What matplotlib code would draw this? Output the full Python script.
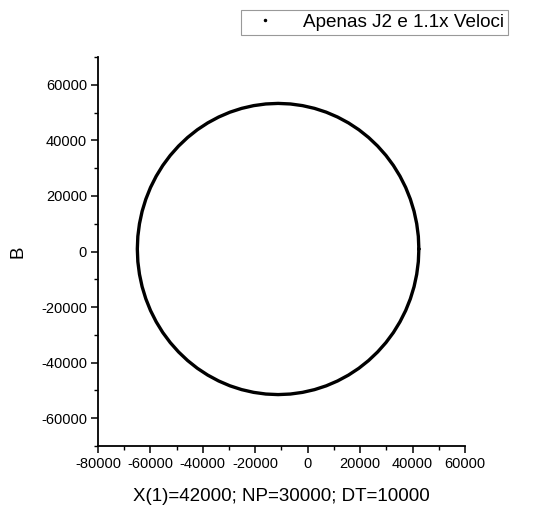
import matplotlib
matplotlib.use("Agg")
import matplotlib.pyplot as plt
from matplotlib.lines import Line2D
from matplotlib.ticker import MultipleLocator

plt.rcParams['font.family'] = ['Liberation Sans', 'DejaVu Sans']
plt.rcParams['axes.unicode_minus'] = False

# Orbit points (x, B)
orbit_x = [42400, 42200, 41580, 40570, 39160, 37370, 35200, 32690, 29840, 26670,
           23220, 19500, 15550, 11390, 7070, 2600, -1980, -6620,
           -11300, -15980, -20620, -25200, -29670, -33990, -38150, -42100, -45820,
           -49270, -52440, -55290, -57800, -59970, -61760, -63170, -64180, -64800,
           -65000, -64800, -64180, -63170, -61760, -59970, -57800, -55290, -52440,
           -49270, -45820, -42100, -38150, -33990, -29670, -25200, -20620, -15980,
           -11300, -6620, -1980, 2600, 7070, 11390, 15550, 19500, 23220,
           26670, 29840, 32690, 35200, 37370, 39160, 40570, 41580, 42200, 42400]
orbit_y = [900, 5470, 10000, 14460, 18820, 23040, 27100, 30960, 34580, 37950,
           41040, 43830, 46280, 48390, 50140, 51510, 52500, 53100,
           53300, 53100, 52500, 51510, 50140, 48390, 46280, 43830, 41040,
           37950, 34580, 30960, 27100, 23040, 18820, 14460, 10000, 5470,
           900, -3670, -8200, -12660, -17020, -21240, -25300, -29160, -32780,
           -36150, -39240, -42030, -44480, -46590, -48340, -49710, -50700, -51300,
           -51500, -51300, -50700, -49710, -48340, -46590, -44480, -42030, -39240,
           -36150, -32780, -29160, -25300, -21240, -17020, -12660, -8200, -3670, 900]

series_label = "Apenas J2 e 1.1x Veloci"
x_label = "X(1)=42000; NP=30000; DT=10000"
y_label = "B"
x_ticks = [-80000, -60000, -40000, -20000, 0, 20000, 40000, 60000]
y_ticks = [-60000, -40000, -20000, 0, 20000, 40000, 60000]

fig = plt.figure(figsize=(5.33, 5.07), dpi=100)
ax = fig.add_axes([98/533, 1-446/507, (465-98)/533, (446-57)/507])

ax.plot(orbit_x, orbit_y, '-', color='black', lw=2.4,
        solid_joinstyle='round', solid_capstyle='round')

ax.set_xlim(-80000, 60000)
ax.set_ylim(-70000, 70000)
ax.set_xticks(x_ticks)
ax.set_yticks(y_ticks)
ax.xaxis.set_minor_locator(MultipleLocator(10000))
ax.yaxis.set_minor_locator(MultipleLocator(10000))
ax.spines['top'].set_visible(False)
ax.spines['right'].set_visible(False)
for s in ['left', 'bottom']:
    ax.spines[s].set_linewidth(1.3)
ax.tick_params(which='major', direction='out', length=5, width=1.1,
               labelsize=10.5, colors='black', pad=3)
ax.tick_params(which='minor', direction='out', length=3, width=1.0)

ax.set_xlabel(x_label, fontsize=13.5, labelpad=12)
ax.set_ylabel(y_label, fontsize=13.5, labelpad=10)

handle = Line2D([], [], color='black', marker='.', markersize=3, linestyle='None')
leg = fig.legend([handle], [series_label], loc='upper right',
                 bbox_to_anchor=(508/533, 1-10/507), borderaxespad=0,
                 fancybox=False, edgecolor='#999999', fontsize=13.6,
                 handlelength=2.2, handletextpad=0.9, borderpad=0.2,
                 framealpha=1)
leg.get_frame().set_linewidth(0.8)

fig.savefig("out.png", dpi=100)
